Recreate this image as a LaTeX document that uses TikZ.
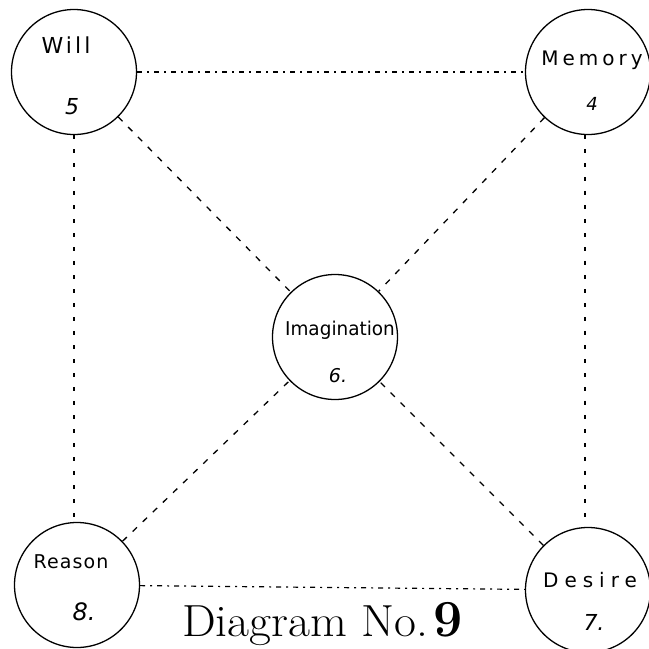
\documentclass[tikz,border=0pt]{standalone}
\usepackage{fontspec}
\newfontfamily\hand{DejaVu Sans}
\newcommand{\handat}[2]{\hand\fontsize{#1}{#1}\selectfont\addfontfeature{LetterSpace=#2}}
\begin{document}
\begin{tikzpicture}[x=1pt,y=-1pt,
  ball/.style={circle,draw,line width=1.3pt,minimum size=125pt,inner sep=0pt},
  link/.style={line width=1.3pt,dash pattern=on 6pt off 8pt},
  vlink/.style={line width=1.3pt,dash pattern=on 4pt off 10pt},
  linkdot/.style={line width=1.2pt,dash pattern=on 5pt off 5pt on 2pt off 5pt},
  num/.style={font=\hand\itshape\fontsize{19}{19}\selectfont}]
\useasboundingbox (0,0) rectangle (649,649);
\fill[white] (0,0) rectangle (649,649);
\node[ball] (will) at (74,72) {};
\node[ball] (mem) at (588,72) {};
\node[ball] (img) at (335,337) {};
\node[ball] (rea) at (77,585) {};
\node[ball] (des) at (588,590) {};
\draw[linkdot] (will) -- (mem);
\draw[linkdot] (rea) -- (des);
\draw[vlink] (will.south) -- (rea.north -| will.south);
\draw[vlink] (mem.south) ++(-3,0) coordinate (ms) -- (des.north -| ms);
\draw[link] (will) -- (img);
\draw[link] (mem) -- (img);
\draw[link] (rea) -- (img);
\draw[link] (des) -- (img);
\node[font=\handat{22}{14}] (twill) at (66,45) {Will};
\node[num,font=\hand\itshape\fontsize{22}{22}\selectfont] (nwill) at (72,107) {5};
\node[font=\handat{20}{20}] (tmem) at (592,60) {Memory};
\node[num,font=\hand\itshape\fontsize{18}{18}\selectfont] (nmem) at (592,104) {4};
\node[font=\handat{19}{0},xscale=0.97] (timg) at (340,330) {Imagination};
\node[num] (nimg) at (338,376) {6.};
\node[font=\handat{19}{6}] (trea) at (71,562) {Reason};
\node[num,font=\hand\itshape\fontsize{24}{24}\selectfont] (nrea) at (84,612) {8.};
\node[font=\handat{20}{30}] (tdes) at (590,580) {Desire};
\node[num,font=\hand\itshape\fontsize{22}{22}\selectfont] (ndes) at (594,622) {7.};
\node[anchor=base west,font=\fontsize{45}{45}\selectfont,inner sep=0pt,xscale=1.06] (title) at (182,636) {Diagram No.};
\node[anchor=base west,font=\bfseries\fontsize{52}{52}\selectfont,inner sep=0pt] (nine) at (433,636) {9};
\end{tikzpicture}
\end{document}
